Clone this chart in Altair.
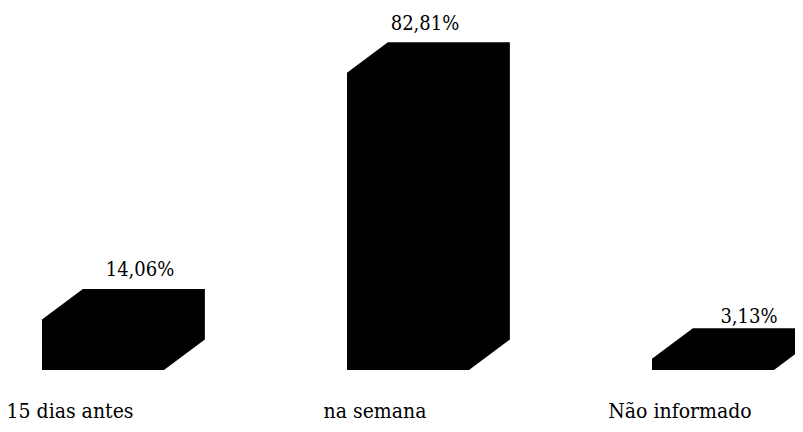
import altair as alt
import pandas as pd

# ---- data ----
categories = ["15 dias antes", "na semana", "Não informado"]
values = [14.06, 82.81, 3.13]
slots = [0, 1, 2]

# ---- styling constants (3D box look) ----
BAR_W = 0.40      # front face width in slot units
DEPTH_X = 0.134   # depth offset in slot units
DEPTH_Y = 8.5     # depth offset in value units

shape_rows = []
for cat, v, p in zip(categories, values, slots):
    shape_rows += [
        dict(cat=cat, x=p, top=v, bot=0),
        dict(cat=cat, x=p + DEPTH_X, top=v + DEPTH_Y, bot=0),
        dict(cat=cat, x=p + BAR_W, top=v + DEPTH_Y, bot=0),
        dict(cat=cat, x=p + BAR_W + DEPTH_X, top=v + DEPTH_Y, bot=DEPTH_Y),
    ]
shape_df = pd.DataFrame(shape_rows)

label_df = pd.DataFrame({
    "cat": categories,
    "pos": slots,
    "top": [v + DEPTH_Y for v in values],
    "label": [f"{v:.2f}".replace(".", ",") + "%" for v in values],
})

xs = alt.Scale(domain=[-0.1115, 2.4689], nice=False, zero=False)
ys = alt.Scale(domain=[-15.04, 100.84], nice=False, zero=False)
FONT = "DejaVu Serif Condensed, DejaVu Serif"

boxes = alt.Chart(shape_df).mark_area(color="black", clip=True, interpolate="linear").encode(
    x=alt.X("x:Q", scale=xs, axis=None),
    y=alt.Y("top:Q", scale=ys, axis=None),
    y2="bot:Q",
    detail="cat:N",
)


def value_label(cat, dx, dy):
    return alt.Chart(label_df).transform_filter(alt.datum.cat == cat).mark_text(
        font=FONT, fontSize=20, color="black", baseline="alphabetic", align="center",
        dx=dx, dy=dy,
    ).encode(
        x=alt.X("pos:Q", scale=xs, axis=None),
        y=alt.Y("top:Q", scale=ys, axis=None),
        text="label:N",
    )


vl1 = value_label(categories[0], 98, -13)
vl2 = value_label(categories[1], 78, -12)
vl3 = value_label(categories[2], 97, -5)

cat_labels = alt.Chart(label_df).mark_text(
    font=FONT, fontSize=21, color="black", baseline="alphabetic", align="center",
    dx=28, dy=48,
).encode(
    x=alt.X("pos:Q", scale=xs, axis=None),
    y=alt.datum(0),
    text="cat:N",
)

chart = alt.layer(boxes, vl1, vl2, vl3, cat_labels).properties(
    width=787, height=416,
    autosize=alt.AutoSizeParams(type="none"),
    padding=0,
    background="white",
).configure_view(stroke=None)

chart.save("out.html", embed_options={"renderer": "svg", "actions": False})
